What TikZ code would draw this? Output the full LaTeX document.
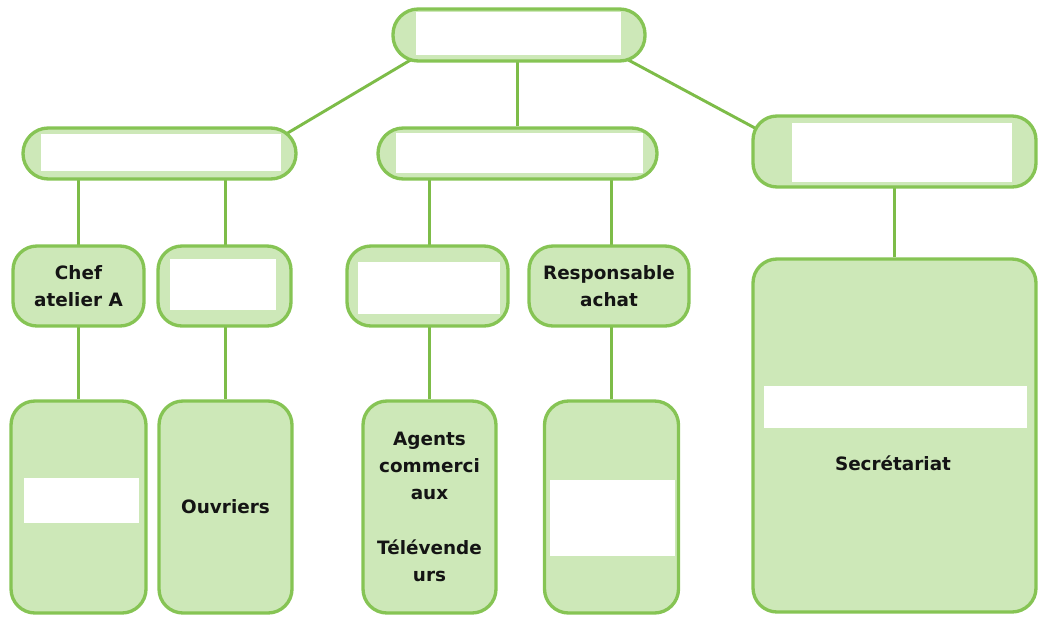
\documentclass[tikz,border=0pt]{standalone}
\usepackage{fontspec}
\setmainfont{DejaVu Sans}
\usepackage{tikz}
\pgfdeclarelayer{background}
\pgfsetlayers{background,main}

\begin{document}
\begin{tikzpicture}[x=0.75pt,y=0.75pt,yscale=-1,xscale=1,
  box/.style={draw={rgb, 255:red, 134; green, 196; blue, 84 }, fill={rgb, 255:red, 205; green, 232; blue, 184 }, fill opacity=1, line width=2.5pt, rounded corners=18pt, inner sep=0pt},
  blank/.style={fill=white, inner sep=0pt},
  lbl/.style={text={rgb, 255:red, 20; green, 20; blue, 20 }, font=\fontsize{13.8}{20.5}\selectfont\bfseries, align=center},
  conn/.style={draw={rgb, 255:red, 125; green, 188; blue, 72 }, line width=2.2pt}]
\useasboundingbox (0,0) rectangle (1048,617);

%Shape: Rounded Rectangle [top]
\node [box, rounded corners=19pt, minimum width=189pt, minimum height=39pt] (top) at (519,35) {};
\node [blank, minimum width=153.75pt, minimum height=32.25pt] (topW) at (518.5,33.5) {};

%Shape: Rounded Rectangle [second row]
\node [box, rounded corners=19pt, minimum width=204.75pt, minimum height=38.25pt] (l2left) at (159.5,153.5) {};
\node [blank, minimum width=180pt, minimum height=27.75pt] (l2leftW) at (161,152.5) {};
\node [box, rounded corners=19pt, minimum width=209.25pt, minimum height=38.25pt] (l2mid) at (517.5,153.5) {};
\node [blank, minimum width=185.25pt, minimum height=30pt] (l2midW) at (519.5,153) {};
\node [box, minimum width=212.25pt, minimum height=53.25pt] (l2right) at (894.5,151.5) {};
\node [blank, minimum width=165pt, minimum height=44.25pt] (l2rightW) at (902,152.5) {};

%Shape: Rounded Rectangle [third row]
\node [box, lbl, minimum width=98.25pt, minimum height=60pt] (chef) at (78.5,286) {Chef\\atelier A};
\node [box, minimum width=99.75pt, minimum height=60pt] (b2) at (224.5,286) {};
\node [blank, minimum width=79.5pt, minimum height=38.25pt] (b2W) at (223,284.5) {};
\node [box, minimum width=120.75pt, minimum height=60pt] (b3) at (427.5,286) {};
\node [blank, minimum width=106.5pt, minimum height=39pt] (b3W) at (429,288) {};
\node [box, lbl, minimum width=120pt, minimum height=60pt] (resp) at (609,286) {Responsable\\achat};
\node [box, minimum width=212.25pt, minimum height=264.75pt] (secr) at (894.5,435.5) {};
\node [blank, minimum width=197.25pt, minimum height=31.5pt] (secrW) at (895.5,407) {};
% Text Node
\node [lbl] (secrT) at (893,463) {Secrétariat};

%Shape: Rounded Rectangle [bottom row]
\node [box, minimum width=101.25pt, minimum height=159pt] (atA) at (78.5,507) {};
\node [blank, minimum width=86.25pt, minimum height=33.75pt] (atAW) at (81.5,500.5) {};
\node [box, lbl, minimum width=99.75pt, minimum height=159pt] (ouv) at (225.5,507) {Ouvriers};
\node [box, lbl, minimum width=99.75pt, minimum height=159pt] (agents) at (429.5,507) {Agents\\commerci\\aux\\[20.5pt]Télévende\\urs};
\node [box, minimum width=100.5pt, minimum height=159pt] (achat) at (611.5,507) {};
\node [blank, minimum width=93.75pt, minimum height=57pt] (achatW) at (612.5,518) {};

%Straight Lines
\begin{pgfonlayer}{background}
\draw [conn] ([shift={(-100,20)}]top.center) -- ([shift={(110.5,-10)}]l2left.center);
\draw [conn] (l2mid) -- (l2mid |- top);
\draw [conn] ([shift={(100,20)}]top.center) -- ([shift={(-119.5,-12.7)}]l2right.center);
\draw [conn] (atA) -- (atA |- l2left);
\draw [conn] (ouv) -- (ouv |- l2left);
\draw [conn] (agents) -- (agents |- l2mid);
\draw [conn] (achat) -- (achat |- l2mid);
\draw [conn] (secr) -- (secr |- l2right);
\end{pgfonlayer}

\end{tikzpicture}
\end{document}
